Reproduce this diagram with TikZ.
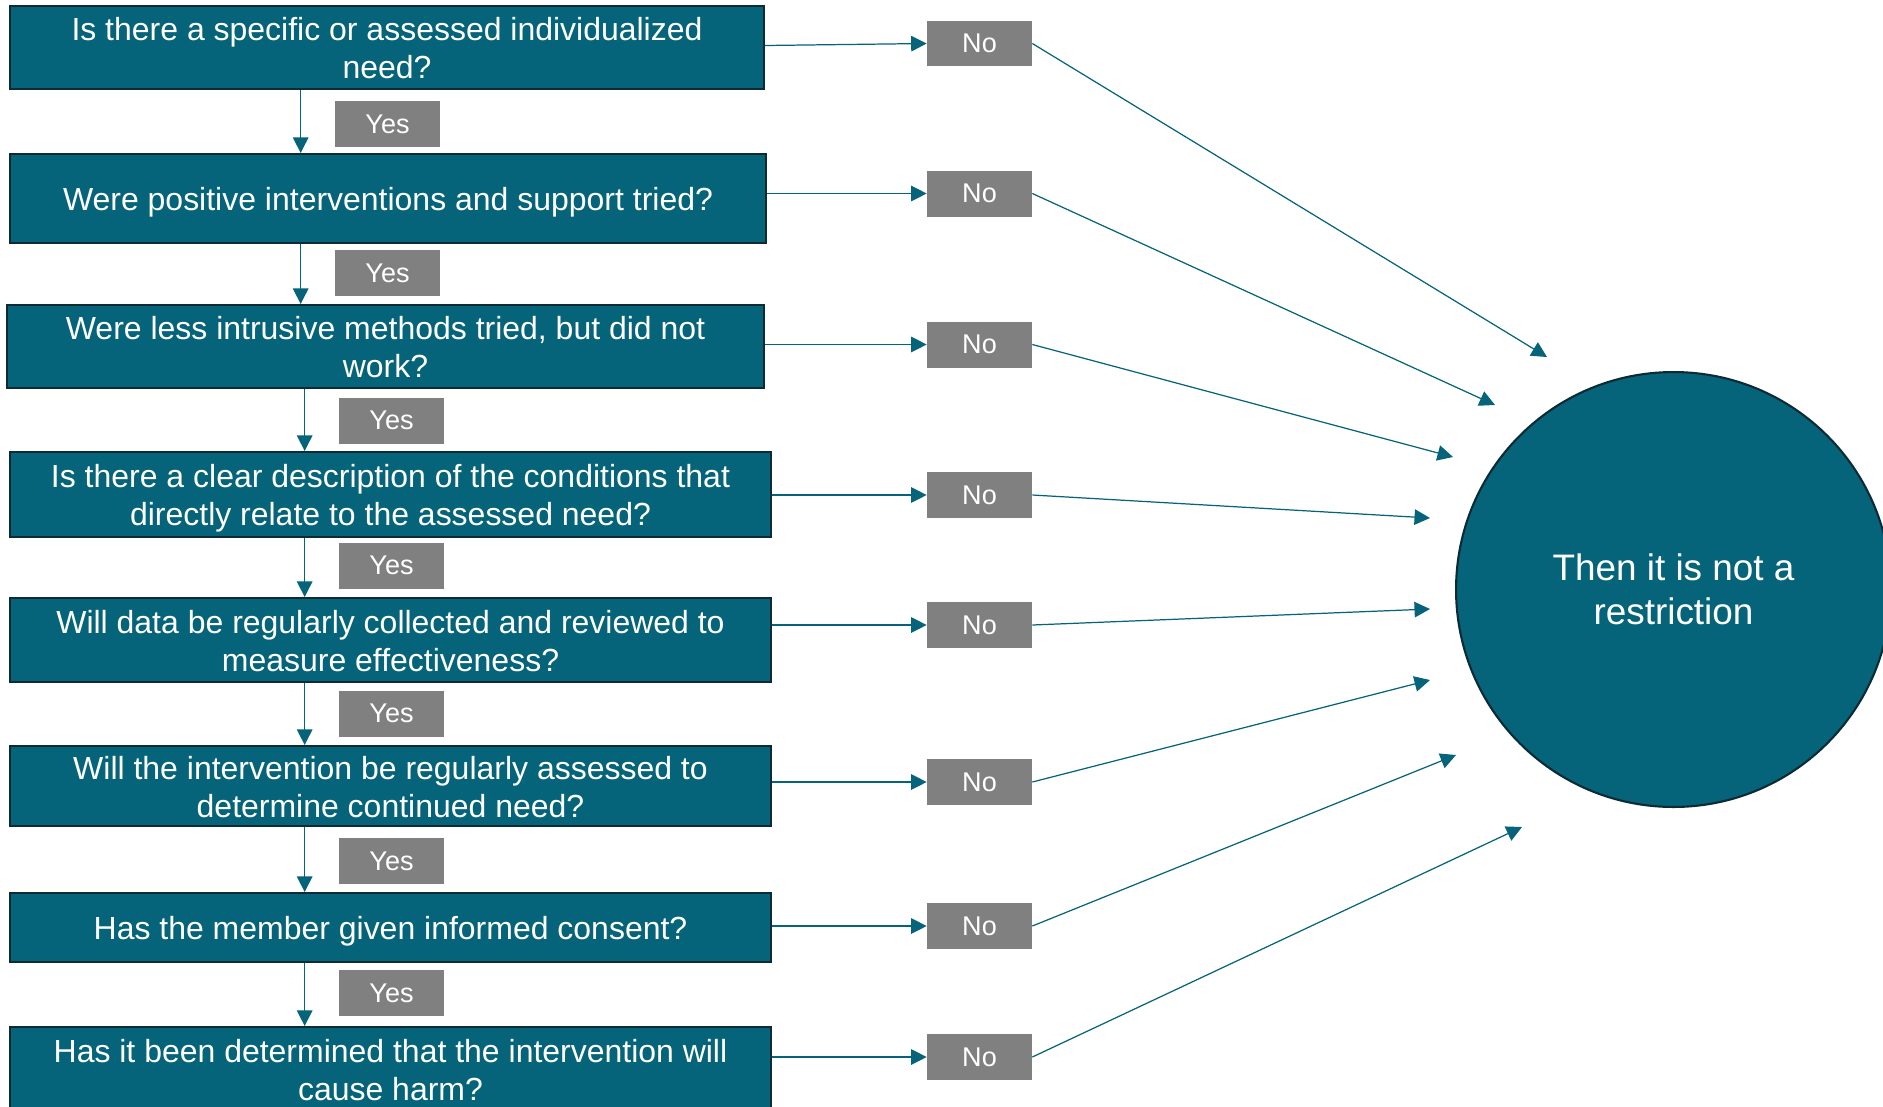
\documentclass[tikz,border=0pt]{standalone}
\usepackage{fontspec}
\setmainfont{Liberation Sans}
\usepackage{xcolor}
\usetikzlibrary{arrows.meta}
\definecolor{boxteal}{HTML}{05637A}
\definecolor{boxedge}{HTML}{0D2B35}
\definecolor{tabgray}{HTML}{808080}
\newcommand{\qstrut}{\rule[-3.9pt]{0pt}{21.9pt}}
\tikzset{>={Triangle[length=0.31cm,width=0.31cm]}}
\tikzset{qbox/.style = {rectangle, fill=boxteal, draw=boxedge, line width=1.2pt, text=white, align=center, inner sep=0pt, minimum width=15.22cm, font=\fontsize{18.2}{21.6}\selectfont, execute at begin node=\qstrut, execute at end node=\qstrut}}
\tikzset{yesbox/.style = {rectangle, fill=tabgray, text=white, inner sep=0pt, minimum width=2.1cm, minimum height=0.92cm, font=\fontsize{15.4}{18}\selectfont}}
\tikzset{nobox/.style = {yesbox}}
\tikzset{endnode/.style = {circle, fill=boxteal, draw=boxedge, line width=1.2pt, text=white, align=center, inner sep=0pt, minimum size=8.7cm, font=\fontsize{21}{25}\selectfont}}
\tikzset{flow/.style = {->, draw=boxteal, line width=0.7pt}}

\begin{document}
\begin{tikzpicture}[x=0.02cm, y=-0.02cm]
    \clip (0,0) rectangle (1883,1106);

    \node[qbox, minimum width=15.08cm, minimum height=1.66cm] (q1) at (387,47.5) {\qstrut Is there a specific or assessed individualized\\need?};
    \node[qbox, minimum width=15.12cm, minimum height=1.78cm] (q2) at (388,198.5) {Were positive interventions and support tried?};
    \node[qbox, minimum width=15.14cm, minimum height=1.66cm] (q3) at (385.5,346.5) {\qstrut Were less intrusive methods tried, but did not\\work?};
    \node[qbox, minimum height=1.70cm] (q4) at (390.5,494.5) {\qstrut Is there a clear description of the conditions that\\directly relate to the assessed need?};
    \node[qbox, minimum height=1.68cm] (q5) at (390.5,640) {\qstrut Will data be regularly collected and reviewed to\\measure effectiveness?};
    \node[qbox, minimum height=1.60cm] (q6) at (390.5,786) {\qstrut Will the intervention be regularly assessed to\\determine continued need?};
    \node[qbox, minimum height=1.38cm] (q7) at (390.5,927.5) {Has the member given informed consent?};
    \node[qbox, minimum height=1.68cm] (q8) at (390.5,1069) {\qstrut Has it been determined that the intervention will\\cause harm?};

    \node[yesbox] (y1) at (387.5,124) {Yes};
    \node[yesbox] (y2) at (387.5,273) {Yes};
    \node[yesbox] (y3) at (391.5,420.5) {Yes};
    \node[yesbox] (y4) at (391.5,565.5) {Yes};
    \node[yesbox] (y5) at (391.5,713.5) {Yes};
    \node[yesbox] (y6) at (391.5,861) {Yes};
    \node[yesbox] (y7) at (391.5,993) {Yes};

    \node[nobox] (n1) at (979.5,43.5) {No};
    \node[nobox] (n2) at (979.5,193.5) {No};
    \node[nobox] (n3) at (979.5,344.5) {No};
    \node[nobox] (n4) at (979.5,495) {No};
    \node[nobox] (n5) at (979.5,625) {No};
    \node[nobox] (n6) at (979.5,782) {No};
    \node[nobox] (n7) at (979.5,926) {No};
    \node[nobox] (n8) at (979.5,1057) {No};

    \node[endnode] (stop) at (1673.5,589.5) {Then it is not a\\restriction};

    \coordinate (e1) at (1547,357);
    \coordinate (e2) at (1495,405);
    \coordinate (e3) at (1453,457);
    \coordinate (e4) at (1430,518);
    \coordinate (e5) at (1430,609);
    \coordinate (e6) at (1430,680);
    \coordinate (e7) at (1456,755);
    \coordinate (e8) at (1522,827);

    \draw[flow] ([xshift=-0.68cm]y1.west |- q1.south) -- ([xshift=-0.68cm]y1.west |- q2.north);
    \draw[flow] ([xshift=-0.68cm]y2.west |- q2.south) -- ([xshift=-0.68cm]y2.west |- q3.north);
    \draw[flow] ([xshift=-0.68cm]y3.west |- q3.south) -- ([xshift=-0.68cm]y3.west |- q4.north);
    \draw[flow] ([xshift=-0.68cm]y4.west |- q4.south) -- ([xshift=-0.68cm]y4.west |- q5.north);
    \draw[flow] ([xshift=-0.68cm]y5.west |- q5.south) -- ([xshift=-0.68cm]y5.west |- q6.north);
    \draw[flow] ([xshift=-0.68cm]y6.west |- q6.south) -- ([xshift=-0.68cm]y6.west |- q7.north);
    \draw[flow] ([xshift=-0.68cm]y7.west |- q7.south) -- ([xshift=-0.68cm]y7.west |- q8.north);

    \draw[flow] ([yshift=0.04cm]q1.east) -- (n1.west);
    \draw[flow] (q2.east |- n2.west) -- (n2.west);
    \draw[flow] (q3.east |- n3.west) -- (n3.west);
    \draw[flow] (q4.east |- n4.west) -- (n4.west);
    \draw[flow] (q5.east |- n5.west) -- (n5.west);
    \draw[flow] (q6.east |- n6.west) -- (n6.west);
    \draw[flow] (q7.east |- n7.west) -- (n7.west);
    \draw[flow] (q8.east |- n8.west) -- (n8.west);

    \draw[flow] (n1.east) -- (e1);
    \draw[flow] (n2.east) -- (e2);
    \draw[flow] (n3.east) -- (e3);
    \draw[flow] (n4.east) -- (e4);
    \draw[flow] (n5.east) -- (e5);
    \draw[flow] (n6.east) -- (e6);
    \draw[flow] (n7.east) -- (e7);
    \draw[flow] (n8.east) -- (e8);
\end{tikzpicture}
\end{document}
